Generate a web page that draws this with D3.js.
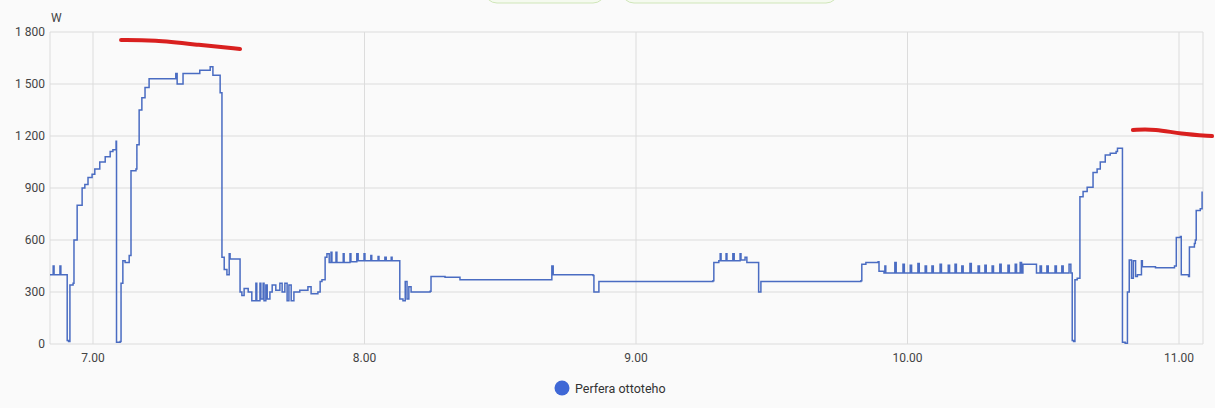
<!DOCTYPE html>
<html>
<head>
<meta charset="utf-8">
<script src="https://cdn.jsdelivr.net/npm/d3@7"></script>
<style>
  body { margin: 0; background: #fafafa; }
  svg { font-family: Roboto, "Noto Sans", sans-serif; }
</style>
</head>
<body>
<svg id="chart" width="1215" height="408"></svg>
<script>
// minutes after 7:00, watts
const minutes = [-9.5,-8.8,-8.6,-7.3,-7.1,-6.0,-5.7,-5.4,-5.1,-4.4,-4.2,-3.5,-2.4,-1.8,-1.1,-0.2,0.4,1.5,2.7,3.8,4.4,5.1,5.2,6.0,6.2,6.6,7.1,8.0,8.4,9.5,9.7,10.2,10.8,11.5,12.4,13.9,18.3,18.6,19.2,19.9,23.6,25.9,26.5,27.6,28.1,28.5,29.0,29.6,30.1,30.3,32.0,32.5,32.9,33.4,34.3,35.1,
  36.0,36.2,36.9,37.1,37.6,37.8,38.2,38.5,39.1,39.6,40.4,41.3,41.8,42.4,42.9,43.3,43.8,44.4,45.7,47.5,48.2,49.7,50.2,50.6,51.3,51.7,52.2,52.6,52.8,
  53.7,53.9,55.3,55.5,56.8,57.0,58.3,58.6,59.9,60.1,61.4,61.6,63.0,63.2,64.5,64.8,65.9,66.1,67.2,
  67.8,68.5,69.0,69.4,69.8,70.3,74.5,74.7,77.8,81.1,101.2,101.4,101.7,110.5,110.7,111.6,111.8,137.0,137.2,138.3,138.6,138.8,139.9,140.1,141.4,141.7,143.0,143.2,144.1,144.5,145.2,146.9,147.1,147.6,169.7,169.9,170.8,173.5,173.7,174.8,175.0,175.2,176.1,
  176.9,177.2,177.5,178.7,179.0,179.3,180.3,180.6,180.9,182.0,182.3,182.6,183.6,183.9,184.2,185.1,185.4,185.7,186.9,187.2,187.5,188.7,189.0,189.3,190.2,190.5,190.8,191.7,192.0,192.3,193.5,193.8,194.1,195.3,195.6,195.9,196.8,197.1,197.4,198.4,198.7,199.0,200.1,200.4,200.7,201.9,202.2,202.5,203.5,203.8,204.1,204.6,204.9,205.2,
  205.5,208.2,208.5,209.0,209.3,209.6,210.5,210.8,211.1,212.3,212.6,212.9,213.8,214.1,214.4,215.4,215.7,216.1,
  216.4,216.7,217.0,217.5,218.1,218.8,219.7,221.0,221.9,222.6,223.7,224.8,226.1,226.4,227.2,227.5,228.1,228.6,229.0,229.5,229.9,230.4,230.8,231.7,231.9,234.8,239.0,239.4,240.3,240.5,242.1,242.3,243.4,243.6,243.8,244.7,245.1];
const watts = [400,450,400,450,400,400,20,15,340,350,600,800,900,920,960,980,1010,1050,1080,1110,1120,1170,10,15,350,480,470,510,1000,1010,1150,1350,1420,1480,1530,1530,1560,1500,1500,1560,1580,1600,1550,1550,1450,500,430,400,520,490,490,300,280,320,300,250,
  350,250,350,260,350,250,340,260,300,340,310,350,300,350,250,340,250,300,310,330,290,300,360,370,500,520,470,530,470,
  530,470,520,470,520,475,520,480,520,480,510,480,505,480,500,480,500,480,480,
  260,250,360,260,330,300,305,390,385,370,370,450,400,395,300,300,360,365,470,480,520,480,520,480,520,480,520,485,500,470,470,470,300,360,365,460,470,475,420,410,450,410,410,
  410,470,410,410,460,410,410,455,410,410,465,410,410,450,410,410,450,410,410,460,410,410,455,410,410,460,410,410,450,410,410,465,410,410,450,410,410,455,410,410,450,410,410,460,410,410,455,410,410,460,410,410,470,410,
  460,460,410,410,450,410,410,450,410,410,450,410,410,450,410,410,460,410,
  20,15,370,380,850,880,905,990,1010,1050,1090,1100,1110,1130,1130,10,5,300,485,380,480,390,400,480,445,440,450,615,620,400,390,560,580,600,770,780,880];

const yTicks = [0, 300, 600, 900, 1200, 1500, 1800];
const xTicks = [0, 60, 120, 180, 240];
const xTickLabels = ["7.00", "8.00", "9.00", "10.00", "11.00"];
const seriesName = "Perfera ottoteho";

// hand-drawn red marks on the screenshot
const mark1Min = [6.2, 13.3, 23.6, 32.5];
const mark1W = [1754, 1754, 1725, 1702];
const mark2Min = [229.8, 234.8, 240.3, 247.3];
const mark2W = [1235, 1240, 1212, 1200];

const svg = d3.select("#chart");
const x = d3.scaleLinear().domain([-9.5, 245.3]).range([50, 1203]);
const y = d3.scaleLinear().domain([0, 1800]).range([344, 32]);
const fmt = v => d3.format(",")(v).replace(",", " ");

// pills at top edge
svg.append("rect").attr("x", 485).attr("y", -20).attr("width", 120).attr("height", 23)
  .attr("rx", 12).attr("fill", "#f5faef").attr("stroke", "#cfe6b8")
svg.append("rect").attr("x", 622).attr("y", -20).attr("width", 216).attr("height", 23)
  .attr("rx", 12).attr("fill", "#f5faef").attr("stroke", "#cfe6b8")

// grid
svg.append("g").selectAll("line").data(yTicks).enter().append("line")
  .attr("x1", 50).attr("x2", 1203).attr("y1", d => y(d)).attr("y2", d => y(d))
  .attr("stroke", "#dcdcdc")
svg.append("g").selectAll("line").data(xTicks.concat([-9.5, 245.3])).enter().append("line")
  .attr("x1", d => x(d)).attr("x2", d => x(d)).attr("y1", 32).attr("y2", 344)
  .attr("stroke", "#dcdcdc")

svg.append("g").selectAll("text").data(yTicks).enter().append("text")
  .attr("x", 45).attr("y", d => y(d) + 4).attr("text-anchor", "end")
  .attr("font-size", 12).attr("fill", "#444").text(fmt)
svg.append("g").selectAll("text").data(xTicks).enter().append("text")
  .attr("x", d => x(d)).attr("y", 362).attr("text-anchor", "middle")
  .attr("font-size", 12).attr("fill", "#444").text((d, i) => xTickLabels[i])
svg.append("text").attr("x", 51).attr("y", 22).attr("font-size", 12).attr("fill", "#444").text("W")

const line = d3.line().x(d => x(d[0])).y(d => y(d[1])).curve(d3.curveStepAfter);
svg.append("path").datum(d3.zip(minutes, watts))
  .attr("d", line).attr("fill", "none").attr("stroke", "#4a6cc2").attr("stroke-width", 1.5)

const redLine = d3.line().x(d => x(d[0])).y(d => y(d[1])).curve(d3.curveBasis);
[[mark1Min, mark1W], [mark2Min, mark2W]].forEach(([m, w]) => {
  svg.append("path").datum(d3.zip(m, w)).attr("d", redLine)
    .attr("fill", "none").attr("stroke", "#d9201f").attr("stroke-width", 4)
    .attr("stroke-linecap", "round")
})

// legend
svg.append("circle").attr("cx", 562).attr("cy", 388).attr("r", 7.5).attr("fill", "#3f68d6")
svg.append("text").attr("x", 575).attr("y", 392.5).attr("font-size", 12.5).attr("fill", "#333").text(seriesName)
</script>
</body>
</html>
